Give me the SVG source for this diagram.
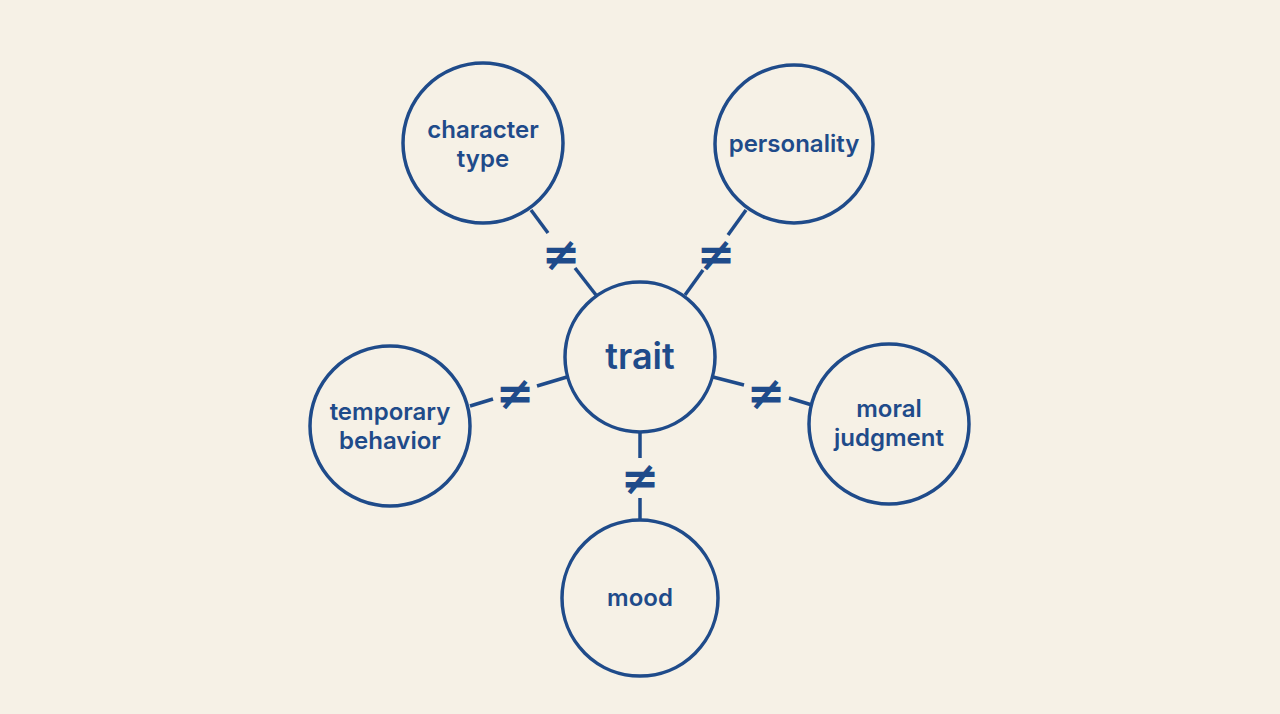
<svg xmlns="http://www.w3.org/2000/svg" width="1280" height="714" viewBox="0 0 1280 714">
<style>
.n{fill:none;stroke:#1f4b8a;stroke-width:3.5}
.c{stroke:#1f4b8a;stroke-width:3.5;fill:none}
.t{font-family:Inter,"Liberation Sans",sans-serif;font-weight:600;fill:#1f4b8a;text-anchor:middle;font-size:24px}
.ne{font-family:"DejaVu Sans",sans-serif;font-weight:bold;fill:#1f4b8a;text-anchor:middle;font-size:46px}
</style>
<rect width="1280" height="714" fill="#f6f1e6"/>
<g id="connectors">
<line class="c" x1="596" y1="295" x2="575" y2="268"/><line class="c" x1="548" y1="233" x2="531" y2="210"/>
<text class="ne" x="561" y="270">≠</text>
<line class="c" x1="685" y1="295" x2="703" y2="270"/><line class="c" x1="728" y1="235" x2="746" y2="210"/>
<text class="ne" x="716" y="270">≠</text>
<line class="c" x1="567" y1="377" x2="537" y2="386"/><line class="c" x1="493" y1="399" x2="470" y2="406"/>
<text class="ne" x="515" y="409">≠</text>
<line class="c" x1="713" y1="377" x2="744" y2="385"/><line class="c" x1="789" y1="398" x2="812" y2="405"/>
<text class="ne" x="766" y="409">≠</text>
<line class="c" x1="640" y1="433" x2="640" y2="458"/><line class="c" x1="640" y1="498" x2="640" y2="520"/>
<text class="ne" x="640" y="494">≠</text>
</g>
<g id="trait"><circle class="n" cx="640" cy="357" r="75"/><text class="t" x="640" y="369" style="font-size:36px">trait</text></g>
<g id="character-type"><circle class="n" cx="483" cy="143" r="80"/><text class="t" x="483" y="138">character</text><text class="t" x="483" y="167">type</text></g>
<g id="personality"><circle class="n" cx="794" cy="144" r="79"/><text class="t" x="794" y="152">personality</text></g>
<g id="temporary-behavior"><circle class="n" cx="390" cy="426" r="80"/><text class="t" x="390" y="420">temporary</text><text class="t" x="390" y="449">behavior</text></g>
<g id="moral-judgment"><circle class="n" cx="889" cy="424" r="80"/><text class="t" x="889" y="417">moral</text><text class="t" x="889" y="446">judgment</text></g>
<g id="mood"><circle class="n" cx="640" cy="598" r="78"/><text class="t" x="640" y="606">mood</text></g>
</svg>
